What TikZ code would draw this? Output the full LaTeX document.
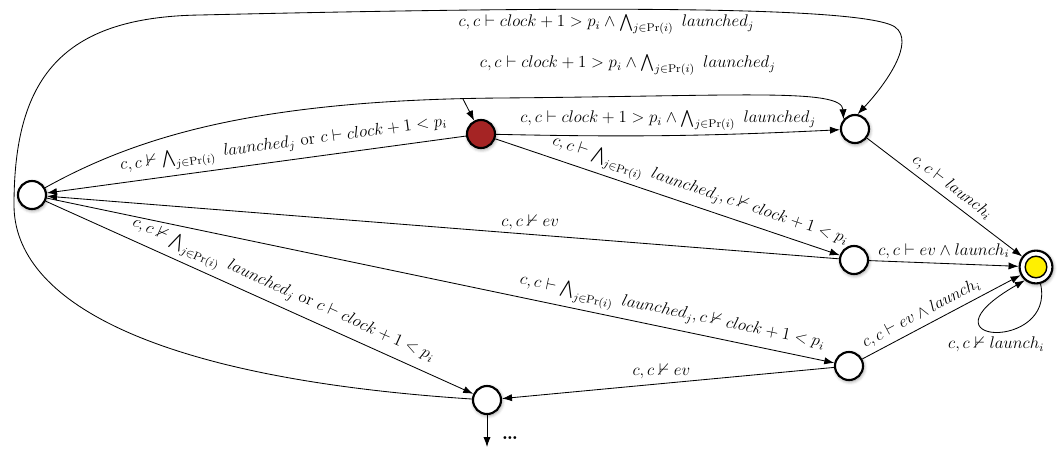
\documentclass[tikz,border=0pt]{standalone}
\usepackage{amsmath,amssymb}
\usetikzlibrary{arrows.meta,shadows.blur}
\definecolor{Ink}{HTML}{000000}
\definecolor{Brick}{HTML}{A52424}
\definecolor{Lemon}{HTML}{FFF000}
\newcommand{\allpre}{\bigwedge_{j\in\mathrm{Pr}(i)}\ launched_j}
\tikzset{
  state/.style={
    circle, draw=Ink, line width=1.5pt, fill=white,
    minimum size=0.7cm, inner sep=0pt,
    blur shadow={shadow xshift=0.6pt, shadow yshift=-1pt,
      shadow blur radius=2.5pt, shadow opacity=45}
  },
  startstate/.style={state, fill=Brick},
  goalstate/.style={state, minimum size=0.82cm,
    path picture={\draw[fill=Lemon, line width=1pt]
      (path picture bounding box.center) circle (0.27cm);}
  },
  trans/.style={-{Latex[length=2.5mm,width=1.8mm]}, line width=0.6pt, draw=Ink},
  guard/.style={font=\large}
}
\begin{document}
\begin{tikzpicture}[x=0.025cm, y=-0.025cm]
  \useasboundingbox (0,0) rectangle (1057,450);
  % states
  \node[state] (L) at (32,195) {};
  \node[startstate] (R) at (481,134) {};
  \node[state] (T) at (855,129) {};
  \node[state] (M) at (854,260) {};
  \node[state] (B) at (849,366) {};
  \node[state] (D) at (487,400) {};
  \node[goalstate] (F) at (1036,267) {};
  \coordinate (init) at (463,99);
  \coordinate (more) at (487,447);
  % transitions
  \draw[trans] (init) -- (R);
  \draw[trans] (R) to[bend right=2]
    node[guard, above] {$c, c \vdash clock + 1 > p_i \wedge \allpre$} (T);
  \draw[trans] (L) .. controls (140,135) and (260,100) .. (500,98)
    .. controls (740,96) and (842,88) .. (T.140)
    node[guard, pos=0.2, above=4mm] {$c, c \vdash clock + 1 > p_i \wedge \allpre$};
  \draw[trans] (D) .. controls (150,378) and (14,300) .. (14,205)
    .. controls (14,80) and (60,17) .. (200,15)
    .. controls (500,8) and (860,3) .. (895,27)
    node[guard, pos=0.45, below] {$c, c \vdash clock + 1 > p_i \wedge \allpre$}
    .. controls (916,42) and (885,85) .. (T.80);
  \draw[trans] (R) -- node[guard, sloped, above, pos=0.43]
    {$c, c \nvdash \allpre \text{ or } c \vdash clock + 1 < p_i$} (L);
  \draw[trans] (R) -- node[guard, sloped, above, pos=0.58]
    {$c, c \vdash \allpre, c \nvdash clock + 1 < p_i$} (M);
  \draw[trans] (M) -- node[guard, above, pos=0.39] {$c, c \nvdash ev$} (L);
  \draw[trans] (M) -- node[guard, above] {$c, c \vdash ev \wedge launch_i$} (F);
  \draw[trans] (T) -- node[guard, sloped, above] {$c, c \vdash launch_i$} (F);
  \draw[trans] (L) -- node[guard, sloped, above, pos=0.79]
    {$c, c \vdash \allpre, c \nvdash clock + 1 < p_i$} (B);
  \draw[trans] (L) -- node[guard, sloped, above, pos=0.54]
    {$c, c \nvdash \allpre \text{ or } c \vdash clock + 1 < p_i$} (D);
  \draw[trans] (B) -- node[guard, above, pos=0.52] {$c, c \nvdash ev$} (D);
  \draw[trans] (B) -- node[guard, sloped, above, pos=0.41]
    {$c, c \vdash ev \wedge launch_i$} (F);
  \draw[trans] (F.-75) .. controls (1056,352) and (912,345) .. (F.-130)
    node[guard, pos=0.5, below] {$c, c \nvdash launch_i$};
  \draw[trans] (D) -- (more) node[pos=0.72, right=7pt, font=\Large] {\textbf{\dots}};
\end{tikzpicture}
\end{document}
